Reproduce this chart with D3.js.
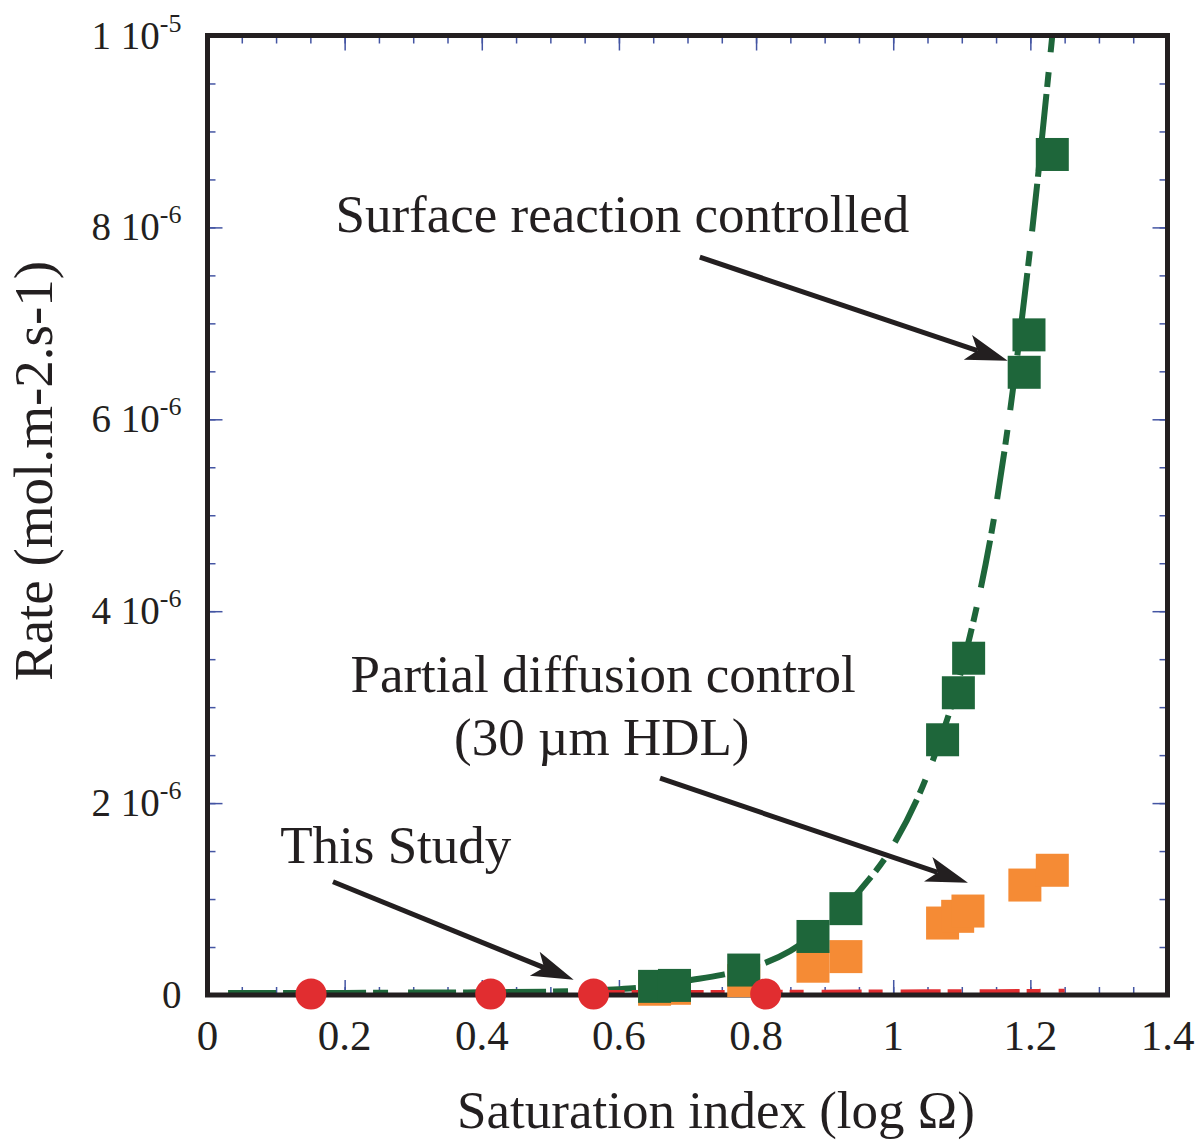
<!DOCTYPE html>
<html>
<head>
<meta charset="utf-8">
<script src="https://cdn.jsdelivr.net/npm/d3@7/dist/d3.min.js"></script>
<style>
  body { margin: 0; background: #fff; }
  svg { display: block; }
  text { font-family: "Liberation Serif", "Times New Roman", serif; fill: #231f20; }
</style>
</head>
<body>
<svg id="chart" width="1203" height="1142"></svg>
<script>
'use strict';

// model curve, surface reaction controlled (rate in 1e-6 mol/m2/s)
var curveX = [0.03, 0.10, 0.20, 0.30, 0.40, 0.50, 0.55, 0.60, 0.65, 0.70, 0.75,
              0.80, 0.85, 0.90, 0.95, 1.00, 1.05, 1.10, 1.15, 1.20, 1.232];
var curveY = [0.02, 0.02, 0.022, 0.025, 0.028, 0.035, 0.045, 0.06, 0.09, 0.15, 0.21,
              0.30, 0.46, 0.72, 1.08, 1.56, 2.30, 3.40, 5.10, 7.80, 10.0];

// model curve, this study
var studyLineX = [0.55, 0.65, 0.75, 0.85, 0.95, 1.05, 1.15, 1.25];
var studyLineY = [0.03, 0.03, 0.032, 0.034, 0.036, 0.038, 0.04, 0.045];

// surface reaction controlled points
var greenX = [0.652, 0.681, 0.782, 0.883, 0.931, 1.072, 1.095, 1.110, 1.191, 1.198, 1.232];
var greenY = [0.09, 0.10, 0.26, 0.61, 0.90, 2.66, 3.15, 3.51, 6.49, 6.88, 8.76];

// partial diffusion control points
var orangeX = [0.652, 0.681, 0.782, 0.883, 0.931, 1.072, 1.094, 1.109, 1.192, 1.232];
var orangeY = [0.06, 0.07, 0.15, 0.30, 0.40, 0.75, 0.82, 0.875, 1.146, 1.30];

// this study points
var redX = [0.151, 0.413, 0.563, 0.814];
var redY = [0.01, 0.01, 0.01, 0.01];

// ticks
var xTicks = [0, 0.2, 0.4, 0.6, 0.8, 1, 1.2, 1.4];
var xTickLabels = ['0', '0.2', '0.4', '0.6', '0.8', '1', '1.2', '1.4'];
var yTicks = [0, 2, 4, 6, 8, 10];
var yTickMant = ['0', '2 10', '4 10', '6 10', '8 10', '1 10'];
var yTickExp = ['', '-6', '-6', '-6', '-6', '-5'];

var margin = {top: 35.5, left: 207.5};
var width = 960;
var height = 959.5;
var green = '#1e663a';
var orange = '#f58b35';
var red = '#e12d30';
var ink = '#231f20';
var tickColor = '#4455a3';

var svg = d3.select('#chart');
var g = svg.append('g')
    .attr('transform', 'translate(' + margin.left + ',' + margin.top + ')');

var x = d3.scaleLinear().domain([0, 1.4]).range([0, width]);
var y = d3.scaleLinear().domain([0, 10]).range([height, 0]);

var xMinor = d3.range(0, 1.401, 0.05);
var yMinor = d3.range(0, 10.01, 0.5);

// inward ticks on all four sides
function tickAxis(axis, values, size, tx, ty) {
    var a = g.append('g')
        .attr('transform', 'translate(' + tx + ',' + ty + ')')
        .call(axis.tickValues(values).tickSize(size).tickFormat(''));
    a.select('.domain').remove();
    a.selectAll('line').attr('stroke', tickColor).attr('stroke-width', 1.5);
}
tickAxis(d3.axisTop(x), xMinor, 8, 0, height);
tickAxis(d3.axisTop(x), xTicks, 15, 0, height);
tickAxis(d3.axisBottom(x), xMinor, 8, 0, 0);
tickAxis(d3.axisBottom(x), xTicks, 15, 0, 0);
tickAxis(d3.axisRight(y), yMinor, 8, 0, 0);
tickAxis(d3.axisRight(y), yTicks, 15, 0, 0);
tickAxis(d3.axisLeft(y), yMinor, 8, width, 0);
tickAxis(d3.axisLeft(y), yTicks, 15, width, 0);

// lines
var line = d3.line()
    .x(function(d) { return x(d[0]); })
    .y(function(d) { return y(d[1]); })
    .curve(d3.curveMonotoneX);

g.append('path')
    .datum(d3.zip(curveX, curveY))
    .attr('d', line)
    .attr('fill', 'none')
    .attr('stroke', green)
    .attr('stroke-width', 6)
    .attr('stroke-dasharray', '48,7,15,20');

g.append('path')
    .datum(d3.zip(studyLineX, studyLineY))
    .attr('d', line)
    .attr('fill', 'none')
    .attr('stroke', red)
    .attr('stroke-width', 4)
    .attr('stroke-dasharray', '40,7,14,18');

// frame
g.append('rect')
    .attr('width', width)
    .attr('height', height)
    .attr('fill', 'none')
    .attr('stroke', ink)
    .attr('stroke-width', 5);

// squares
var sq = 33;
g.selectAll('.orange')
    .data(d3.zip(orangeX, orangeY))
    .enter().append('rect')
    .attr('class', 'orange')
    .attr('x', function(d) { return x(d[0]) - sq / 2; })
    .attr('y', function(d) { return y(d[1]) - sq / 2; })
    .attr('width', sq)
    .attr('height', sq)
    .attr('fill', orange);

g.selectAll('.green')
    .data(d3.zip(greenX, greenY))
    .enter().append('rect')
    .attr('class', 'green')
    .attr('x', function(d) { return x(d[0]) - sq / 2; })
    .attr('y', function(d) { return y(d[1]) - sq / 2; })
    .attr('width', sq)
    .attr('height', sq)
    .attr('fill', green);

g.selectAll('.red')
    .data(d3.zip(redX, redY))
    .enter().append('circle')
    .attr('class', 'red')
    .attr('cx', function(d) { return x(d[0]); })
    .attr('cy', function(d) { return y(d[1]); })
    .attr('r', 15.5)
    .attr('fill', red);

// tick labels
g.selectAll('.xlab')
    .data(xTicks)
    .enter().append('text')
    .attr('class', 'xlab')
    .attr('x', function(d) { return x(d); })
    .attr('y', height + 55)
    .attr('text-anchor', 'middle')
    .attr('font-size', 43)
    .text(function(d, i) { return xTickLabels[i]; });

var ylab = g.selectAll('.ylab')
    .data(yTicks)
    .enter().append('text')
    .attr('class', 'ylab')
    .attr('x', -26)
    .attr('y', function(d) { return y(d) + 13; })
    .attr('text-anchor', 'end');
ylab.append('tspan')
    .attr('font-size', 39)
    .text(function(d, i) { return yTickMant[i]; });
ylab.append('tspan')
    .attr('font-size', 26)
    .attr('dy', -17)
    .text(function(d, i) { return yTickExp[i]; });

// axis titles
svg.append('text')
    .attr('x', 716)
    .attr('y', 1128)
    .attr('text-anchor', 'middle')
    .attr('font-size', 53)
    .text('Saturation index (log \u03A9)');

svg.append('text')
    .attr('transform', 'translate(52,471) rotate(-90)')
    .attr('text-anchor', 'middle')
    .attr('font-size', 55)
    .text('Rate (mol.m-2.s-1)');

// annotations
function arrow(x1, y1, x2, y2) {
    var ax = x(x1), ay = y(y1), bx = x(x2), by = y(y2);
    var ang = Math.atan2(by - ay, bx - ax);
    var len = 42, half = 13, notch = 32;
    var c = Math.cos(ang), s = Math.sin(ang);
    g.append('line')
        .attr('x1', ax).attr('y1', ay)
        .attr('x2', bx - c * notch).attr('y2', by - s * notch)
        .attr('stroke', ink)
        .attr('stroke-width', 5);
    var pts = [
        [bx, by],
        [bx - c * len - s * half, by - s * len + c * half],
        [bx - c * notch, by - s * notch],
        [bx - c * len + s * half, by - s * len - c * half]
    ];
    g.append('path')
        .attr('d', 'M' + pts.join('L') + 'Z')
        .attr('fill', ink);
}

arrow(0.718, 7.69, 1.167, 6.61);
arrow(0.660, 2.26, 1.109, 1.17);
arrow(0.183, 1.18, 0.534, 0.16);

function note(tx, ty, anchor, str) {
    g.append('text')
        .attr('x', x(tx))
        .attr('y', y(ty))
        .attr('text-anchor', anchor)
        .attr('font-size', 53)
        .text(str);
}
note(0.605, 7.95, 'middle', 'Surface reaction controlled');
note(0.577, 3.16, 'middle', 'Partial diffusion control');
note(0.575, 2.50, 'middle', '(30 \u00B5m HDL)');
note(0.106, 1.376, 'start', 'This Study');
</script>
</body>
</html>
